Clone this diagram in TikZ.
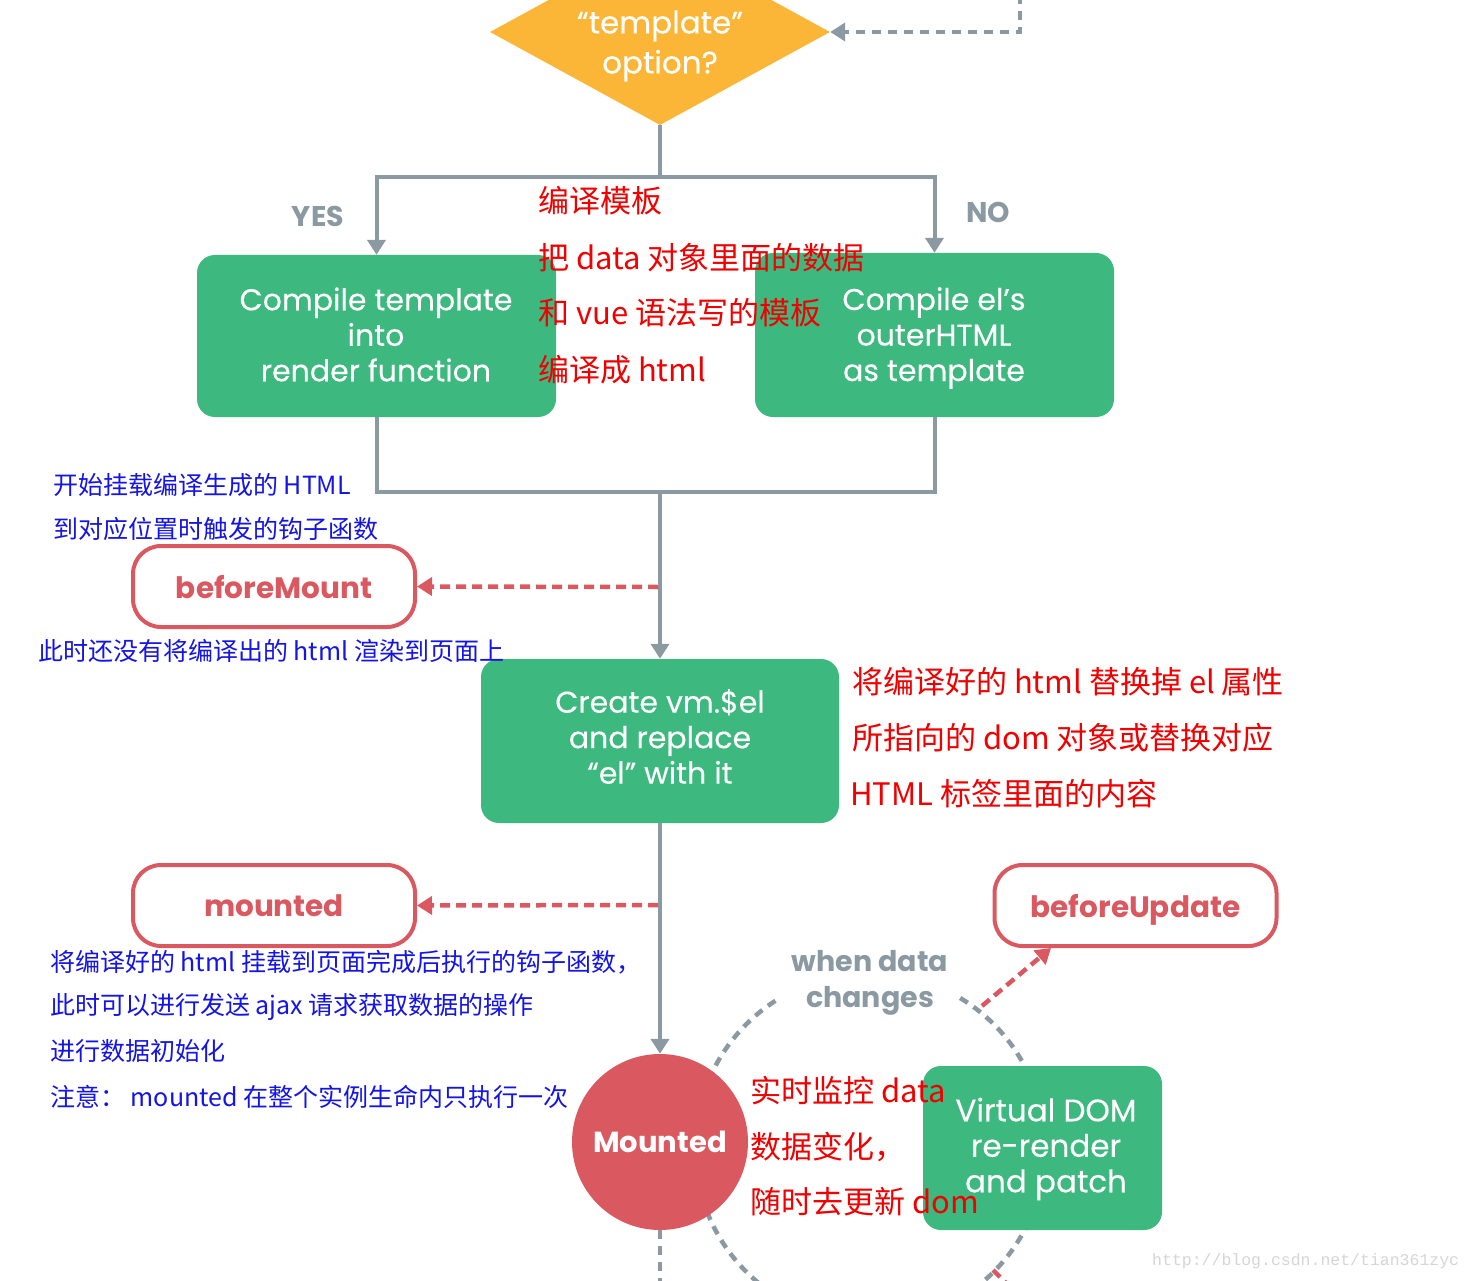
\documentclass[tikz,border=0pt]{standalone}
\usepackage{fontspec}
\usetikzlibrary{shapes.geometric,arrows.meta}
\newfontfamily\pop{Poppins}
\newfontfamily\popm{Poppins}[FakeBold=0.3]
\newfontfamily\cjk{Noto Sans CJK SC}
\newfontfamily\wmfont{Liberation Mono}
\definecolor{vgreen}{RGB}{61,184,126}
\definecolor{vorange}{RGB}{251,182,56}
\definecolor{vred}{RGB}{218,88,96}
\definecolor{lgray}{RGB}{138,153,162}
\definecolor{tred}{RGB}{240,0,0}
\definecolor{tblue}{RGB}{20,20,230}
\tikzset{
  greenbox/.style={fill=vgreen, rounded corners=18pt, inner sep=0pt},
  boxtxt/.style={text=white, align=center, inner sep=0pt, font=\popm\fontsize{30}{35.5}\selectfont},
  hookbox/.style={draw=vred, line width=4pt, fill=white, rounded corners=28pt, text=vred, text depth=0pt,
    minimum width=282pt, minimum height=81pt, inner sep=0pt, font=\pop\bfseries\fontsize{29.5}{32}\selectfont},
  gline/.style={draw=lgray, line width=4pt},
  gdash/.style={draw=lgray, line width=4.5pt, dash pattern=on 9pt off 7pt},
  rdash/.style={draw=vred, line width=4.5pt, dash pattern=on 10pt off 6pt},
  gtip/.style={-{Triangle[length=15pt,width=18pt]}},
  redtxt/.style={anchor=west, text=tred, inner sep=0pt, font=\cjk\fontsize{31}{36}\selectfont},
  bluetxt/.style={anchor=west, text=tblue, inner sep=0pt, font=\cjk\fontsize{25}{30}\selectfont},
  graylbl/.style={text=lgray, inner sep=0pt, align=center, font=\pop\bfseries\fontsize{28.5}{36}\selectfont},
}
\begin{document}
\begin{tikzpicture}[x=1pt,y=-1pt]
\useasboundingbox (0,0) rectangle (1473,1281);
\clip (0,0) rectangle (1473,1281);
\fill[white] (0,0) rectangle (1473,1281);

% big dashed cycle (drawn first, behind)
\coordinate (cyc) at (870,1148);
\draw[gdash] (cyc) ++(301:175) arc[start angle=301,end angle=599,radius=175];

% nodes
\node[diamond, fill=vorange, minimum width=340pt, minimum height=186pt, inner sep=0pt] (tmpl) at (660,32) {};
\node[boxtxt, font=\popm\fontsize{31}{40}\selectfont] (tmplt) at (660,46) {“template”\\option?};
\node[greenbox, minimum width=359pt, minimum height=162pt] (cta) at (376.5,336) {};
\node[boxtxt] (ctat) at (376,334.5) {Compile template\\into\\render function};
\node[greenbox, minimum width=359pt, minimum height=164pt] (cel) at (934.5,335) {};
\node[boxtxt] (celt) at (934,338) {Compile el’s\\outerHTML\\as template};
\node[greenbox, minimum width=358pt, minimum height=164pt] (cvm) at (660,741) {};
\node[boxtxt] (cvmt) at (660,736.5) {Create vm.\$el\\and replace\\“el” with it};
\node[hookbox] (bm) at (274,586.5) {beforeMount};
\node[hookbox] (md) at (274,905.5) {mounted};
\node[hookbox] (bu) at (1135.5,905.5) {beforeUpdate};
\node[greenbox, minimum width=239pt, minimum height=164pt] (vd) at (1042.5,1148) {};
\node[boxtxt, font=\popm\fontsize{31}{35.5}\selectfont] (vdt) at (1046,1149) {Virtual DOM\\re-render\\and patch};
\node[circle, fill=vred, minimum size=176pt, inner sep=0pt, text=white,
  font=\pop\bfseries\fontsize{29}{32}\selectfont] (mc) at (660,1142) {Mounted};

% labels
\node[graylbl] (yes) at (318,216) {YES};
\node[graylbl] (no) at (988,212) {NO};
\node[graylbl] (wdc) at (870,983) {when data\\changes};

% connectors
\coordinate (loop) at (1020,-5);
\draw[gdash, gtip] (loop) |- (tmpl.east);
\coordinate (split) at (660,177);
\draw[gline] (tmpl.south) -- (split);
\draw[gline, gtip] (split) -| (cta.north);
\draw[gline, gtip] (split) -| (cel.north);
\coordinate (join) at (660,492);
\draw[gline] (cta.south) |- (join);
\draw[gline] (cel.south) |- (join);
\draw[gline, gtip] (join) -- (cvm.north);
\coordinate (bmsrc) at (658,587);
\draw[rdash, gtip] (bmsrc) -- (bm.east);
\draw[gline, gtip] (cvm.south) -- (mc.north);
\coordinate (mdsrc) at (658,905);
\draw[rdash, gtip] (mdsrc) -- (md.east);
\coordinate (busrc) at (982,1006);
\coordinate (butgt) at (1051,948);
\draw[rdash, gtip] (busrc) -- (butgt);
\coordinate (bdsrc) at (993,1270);
\draw[rdash] (bdsrc) -- ++(25,25);
\coordinate (mcdown) at (660,1300);
\draw[gdash] (mc.south) -- (mcdown);

% red notes
\node[redtxt] (r1) at (538,201) {编译模板};
\node[redtxt] (r2) at (538,258) {把 data 对象里面的数据};
\node[redtxt] (r3) at (538,313) {和 vue 语法写的模板};
\node[redtxt] (r4) at (538,370) {编译成 html};
\node[redtxt] (r5) at (852,682) {将编译好的 html 替换掉 el 属性};
\node[redtxt] (r6) at (852,738) {所指向的 dom 对象或替换对应};
\node[redtxt] (r7) at (850,794) {HTML 标签里面的内容};
\node[redtxt] (r8) at (750,1091) {实时监控 data};
\node[redtxt] (r9) at (750,1147) {数据变化，};
\node[redtxt] (r10) at (750,1202) {随时去更新 dom};

% blue notes
\node[bluetxt] (b1) at (53,485) {开始挂载编译生成的 HTML};
\node[bluetxt] (b2) at (53,529) {到对应位置时触发的钩子函数};
\node[bluetxt] (b3) at (38,651) {此时还没有将编译出的 html 渲染到页面上};
\node[bluetxt] (b4) at (50,962) {将编译好的 html 挂载到页面完成后执行的钩子函数，};
\node[bluetxt] (b5) at (50,1007) {此时可以进行发送 ajax 请求获取数据的操作};
\node[bluetxt] (b6) at (50,1051) {进行数据初始化};
\node[bluetxt] (b7) at (50,1097) {注意： mounted 在整个实例生命内只执行一次};

% watermark
\node[anchor=west, inner sep=0pt, text=black!16, font=\wmfont\fontsize{16.5}{18}\selectfont] (wm) at (1152,1261) {http://blog.csdn.net/tian361zyc};
\end{tikzpicture}
\end{document}
